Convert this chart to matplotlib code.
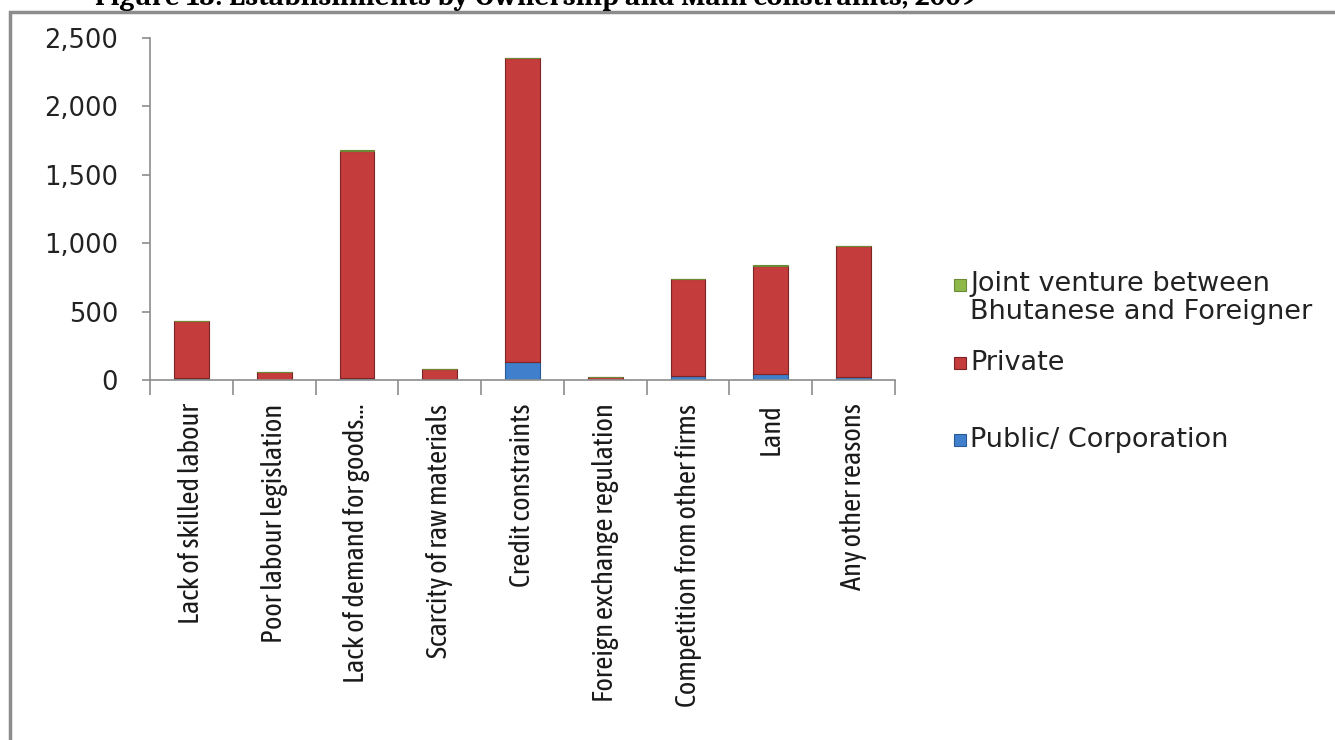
import numpy as np
import matplotlib
matplotlib.use("Agg")
import matplotlib.pyplot as plt
from matplotlib.patches import Rectangle
from matplotlib.ticker import FuncFormatter

# data
categories = ["Lack of skilled labour", "Poor labour legislation", "Lack of demand for goods...",
              "Scarcity of raw materials", "Credit constraints", "Foreign exchange regulation",
              "Competition from other firms", "Land", "Any other reasons"]
public = [15, 3, 15, 4, 134, 2, 30, 46, 20]
private = [413, 57, 1662, 76, 2218, 20, 706, 790, 958]
joint = [3, 0, 2, 0, 2, 0, 2, 5, 2]
series_names = ["Public/ Corporation", "Private", "Joint venture between\nBhutanese and Foreigner"]

c_public = "#3F7FCC"
c_private = "#C43C3C"
c_joint = "#8FB84A"
edges = ["#2A5A95", "#7E2424", "#6A8A35"]

fig = plt.figure(figsize=(13.35, 7.4), dpi=100)
ax = fig.add_axes([150/1335, 1-380/740, 745/1335, 342/740])

x = np.arange(len(categories))
w = 0.42
pub = np.array(public)
pri = np.array(private)
jv = np.array(joint)
ax.bar(x, pub, w, color=c_public, edgecolor=edges[0], linewidth=0.8)
ax.bar(x, pri, w, bottom=pub, color=c_private, edgecolor=edges[1], linewidth=0.8)
ax.bar(x, jv, w, bottom=pub+pri, color=c_joint, edgecolor=edges[2], linewidth=0.8)

ax.set_xlim(-0.5, len(categories)-0.5)
ax.set_ylim(0, 2500)
ax.set_yticks([0, 500, 1000, 1500, 2000, 2500])
ax.yaxis.set_major_formatter(FuncFormatter(lambda v, p: f"{int(v):,}"))
ax.tick_params(axis="y", length=6, width=1.2, color="#8C8C8C", labelsize=18.5, pad=17)
for t in ax.get_yticklabels():
    t.set_family("DejaVu Sans")
    t.set_color("#222222")

# separators between categories
ax.set_xticks(np.arange(-0.5, len(categories)), labels=[""]*(len(categories)+1))
ax.tick_params(axis="x", which="major", length=11, width=1.2, color="#8C8C8C")
ax.set_xticks(x, labels=categories, minor=True)
ax.tick_params(axis="x", which="minor", length=0, pad=17, labelsize=20.5)
for t in ax.get_xticklabels(minor=True):
    t.set_rotation(90)
    t.set_family(["Asap Condensed", "Barlow Semi Condensed", "DejaVu Sans"])
    t.set_color("#1A1A1A")

for s in ["top", "right"]:
    ax.spines[s].set_visible(False)
for s in ["left", "bottom"]:
    ax.spines[s].set_color("#8C8C8C")
    ax.spines[s].set_linewidth(1.2)

# legend, laid out like the original (joint on top, public at the bottom)
leg_y = [440, 363, 285]
leg_cols = [c_public, c_private, c_joint]
for name, col, ec, yy in zip(series_names, leg_cols, edges, leg_y):
    fig.add_artist(Rectangle((954/1335, 1-(yy+6)/740), 12/1335, 12/740, transform=fig.transFigure,
                             facecolor=col, edgecolor=ec, linewidth=0.8))
    fig.text(970/1335, 1-yy/740, name, va="top" if "\n" in name else "center", fontsize=19.5,
             family="DejaVu Sans", color="#222222", linespacing=1.1)
# two-line label: first line level with its marker
fig.texts[-1].set_y(1-271/740)

# page frame and cut-off caption
fig.patches.append(Rectangle((10/1335, -0.05), 1.2, 1.05-12/740, transform=fig.transFigure,
                             fill=False, edgecolor="#8C8C8C", linewidth=2.5))
fig.text(95/1335, 1-5/740, "Figure 13: Establishments by Ownership and Main constraints, 2009",
         fontsize=21, fontweight="bold", family=["Caladea", "Liberation Serif"], va="baseline")

fig.savefig("out.png", dpi=100)
